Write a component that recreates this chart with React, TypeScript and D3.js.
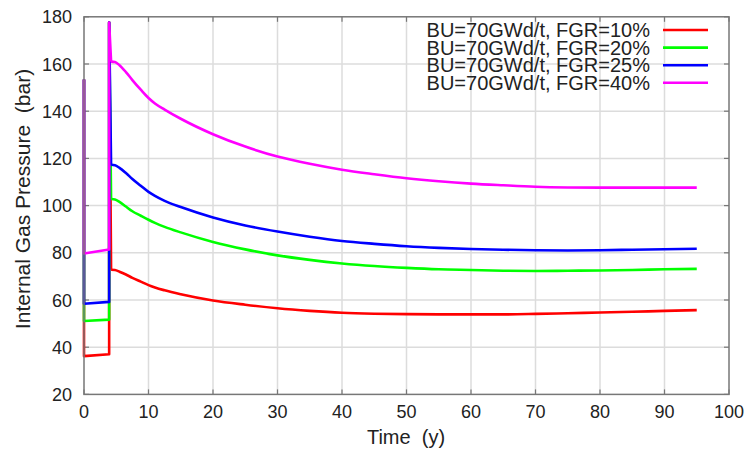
import React from "react";
import * as d3 from "d3";

const xTicks = [0, 10, 20, 30, 40, 50, 60, 70, 80, 90, 100];
const yTicks = [20, 40, 60, 80, 100, 120, 140, 160, 180];

const seriesNames = [
  "BU=70GWd/t, FGR=10%",
  "BU=70GWd/t, FGR=20%",
  "BU=70GWd/t, FGR=25%",
  "BU=70GWd/t, FGR=40%",
];
const seriesColors = ["#ff0000", "#00ff00", "#0000ff", "#ff00ff"];

// start-up phase: spike at t=0, low plateau, spike at t=3.9
const spikeTimes = [0, 3.9];
const spikeTop = [153.4, 177.6];
const lowStart = [36.2, 51.1, 58.4, 79.7];
const lowEnd = [37.0, 51.7, 59.2, 81.4];

const decayTime = [4.2, 4.8, 5.5, 6.5, 7.5, 8.8, 10, 11, 12.5, 15, 20, 25, 30, 35, 40, 45, 50, 55, 60, 65, 70, 75, 80, 85, 90, 95];
const red = [72.8, 72.7, 72.0, 70.8, 69.4, 67.8, 66.3, 65.3, 64.1, 62.45, 59.8, 58.0, 56.5, 55.4, 54.6, 54.2, 54.0, 53.9, 53.9, 53.9, 54.1, 54.4, 54.7, 55.0, 55.4, 55.7];
const green = [102.8, 102.6, 101.6, 99.6, 97.6, 95.7, 94.0, 92.7, 91.0, 88.65, 84.6, 81.45, 78.9, 77.0, 75.5, 74.4, 73.6, 73.0, 72.7, 72.4, 72.3, 72.4, 72.5, 72.7, 73.0, 73.2];
const blue = [117.3, 117.1, 116.0, 113.8, 111.3, 108.4, 105.8, 104.1, 102.0, 99.4, 95.0, 91.6, 89.0, 86.8, 85.0, 83.8, 82.8, 82.1, 81.6, 81.3, 81.1, 81.0, 81.1, 81.3, 81.5, 81.7];
const magenta = [161.0, 160.8, 159.5, 156.6, 153.2, 149.1, 145.6, 143.3, 140.7, 136.8, 130.25, 125.0, 120.8, 117.7, 115.2, 113.3, 111.6, 110.3, 109.3, 108.6, 108.0, 107.7, 107.6, 107.6, 107.6, 107.6];
const decayValues = [red, green, blue, magenta];

const W = 748;
const H = 454;
const left = 84;
const right = 729;
const top = 16.8;
const bottom = 394.4;

export default function App() {
  const x = d3.scaleLinear().domain([0, 100]).range([left, right]);
  const y = d3.scaleLinear().domain([20, 180]).range([bottom, top]);
  const linLine = d3
    .line<[number, number]>()
    .x((d) => x(d[0]))
    .y((d) => y(d[1]));
  const smoothLine = d3
    .line<[number, number]>()
    .x((d) => x(d[0]))
    .y((d) => y(d[1]))
    .curve(d3.curveMonotoneX);

  const font = "'Liberation Sans', Arial, sans-serif";
  const frame = "#777";
  const grid = "#dcdcdc";

  return (
    <svg
      width={W}
      height={H}
      style={{ position: "absolute", left: 0, top: 0, background: "#fff" }}
      fontFamily={font}
    >
      <rect x={0} y={0} width={W} height={H} fill="#fff" />
      {/* grid */}
      {xTicks.slice(1, -1).map((t) => (
        <line key={"gx" + t} x1={x(t)} x2={x(t)} y1={top} y2={bottom} stroke={grid} strokeWidth={1.5} />
      ))}
      {yTicks.slice(1, -1).map((t) => (
        <line key={"gy" + t} x1={left} x2={right} y1={y(t)} y2={y(t)} stroke={grid} strokeWidth={1.5} />
      ))}
      {/* ticks */}
      {xTicks.map((t) => (
        <g key={"tx" + t}>
          <line x1={x(t)} x2={x(t)} y1={bottom} y2={bottom - 5} stroke={frame} strokeWidth={1.2} />
          <line x1={x(t)} x2={x(t)} y1={top} y2={top + 5} stroke={frame} strokeWidth={1.2} />
          <text x={x(t)} y={418} fontSize={18} textAnchor="middle" fill="#222">
            {t}
          </text>
        </g>
      ))}
      {yTicks.map((t) => (
        <g key={"ty" + t}>
          <line x1={left} x2={left + 5} y1={y(t)} y2={y(t)} stroke={frame} strokeWidth={1.2} />
          <line x1={right} x2={right - 5} y1={y(t)} y2={y(t)} stroke={frame} strokeWidth={1.2} />
          <text x={72} y={y(t) + 6.5} fontSize={18} textAnchor="end" fill="#222">
            {t}
          </text>
        </g>
      ))}
      {/* series */}
      {decayValues.map((vals, i) => {
        const start: [number, number][] = [
          [spikeTimes[0], spikeTop[0]],
          [spikeTimes[0], lowStart[i]],
          [spikeTimes[1], lowEnd[i]],
          [spikeTimes[1], spikeTop[1]],
          [decayTime[0], vals[0]],
        ];
        const decay: [number, number][] = decayTime.map((t, j) => [t, vals[j]]);
        return (
          <g key={"s" + i} fill="none" stroke={seriesColors[i]} strokeWidth={2.6} strokeLinejoin="round">
            <path d={linLine(start) || ""} />
            <path d={smoothLine(decay) || ""} />
          </g>
        );
      })}
      {/* frame */}
      <rect x={left} y={top} width={right - left} height={bottom - top} fill="none" stroke={frame} strokeWidth={1.5} />
      {/* legend */}
      {seriesNames.map((name, i) => {
        const ly = 30 + i * 17.6;
        return (
          <g key={"lg" + i}>
            <text x={650} y={ly + 7} fontSize={20} textAnchor="end" fill="#222">
              {name}
            </text>
            <line x1={663} x2={708} y1={ly} y2={ly} stroke={seriesColors[i]} strokeWidth={2.6} />
          </g>
        );
      })}
      {/* axis titles */}
      <text x={406} y={444} fontSize={20} textAnchor="middle" fill="#222" style={{ whiteSpace: "pre" }}>
        {"Time  (y)"}
      </text>
      <text
        transform={`translate(30,199) rotate(-90)`}
        fontSize={21}
        textAnchor="middle"
        fill="#222"
        style={{ whiteSpace: "pre" }}
      >
        {"Internal Gas Pressure  (bar)"}
      </text>
    </svg>
  );
}
